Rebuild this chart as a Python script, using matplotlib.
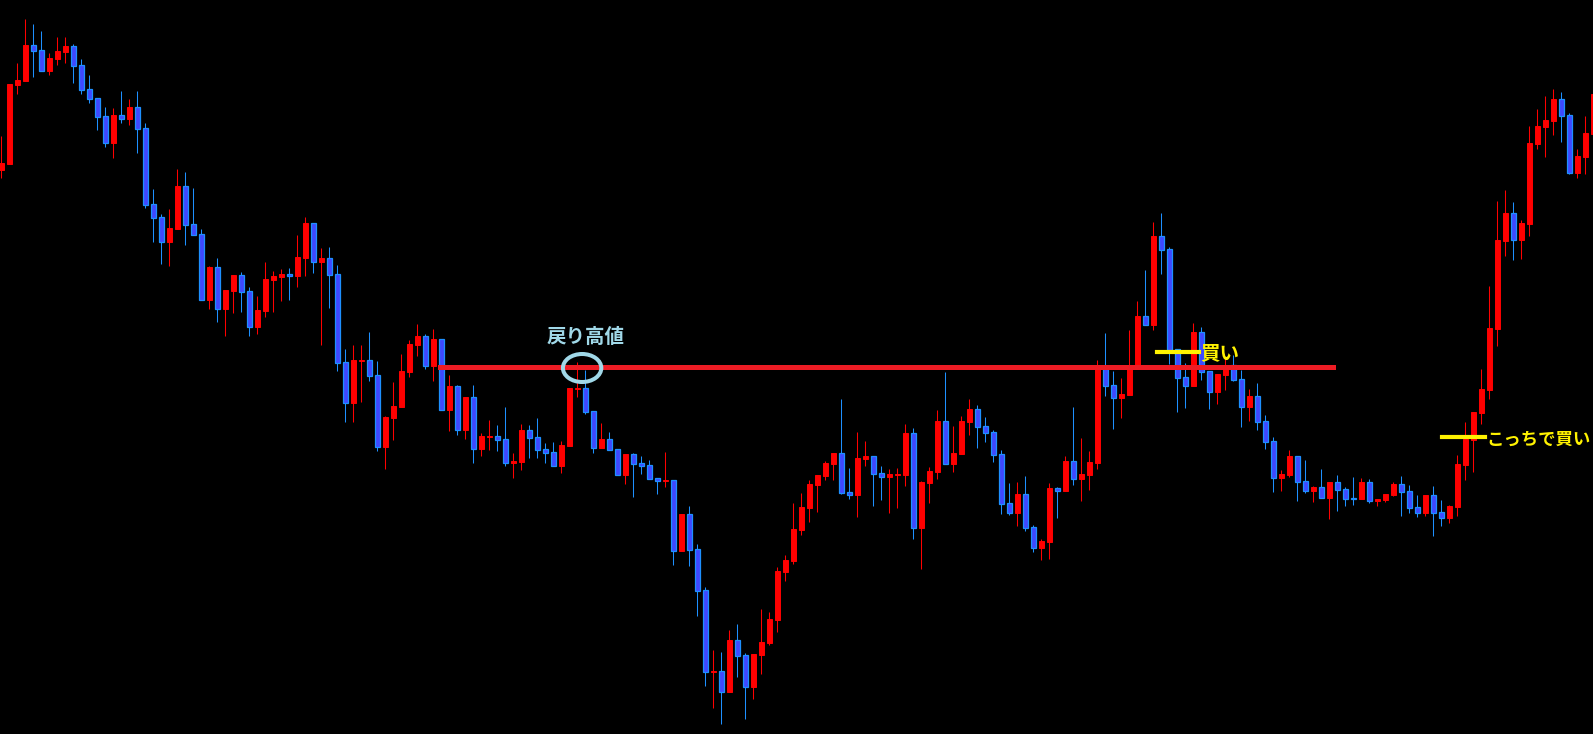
import matplotlib
matplotlib.use("Agg")
import matplotlib.pyplot as plt
from matplotlib.patches import Ellipse
import numpy as np

plt.rcParams['font.family'] = ['Noto Sans CJK JP', 'DejaVu Sans']

# OHLC (price points)
opens = [830, 836, 915, 919, 955, 950, 929, 941, 948, 954,
         935, 911, 902, 884, 857, 885, 881, 893, 872, 796,
         783, 758, 771, 814, 776, 766, 700, 733, 691, 709,
         725, 709, 673, 689, 720, 723, 726, 724, 742, 777,
         738, 742, 726, 638, 597, 639, 640, 625, 553, 582,
         593, 628, 655, 664, 634, 661, 590, 614, 570, 603,
         551, 563, 564, 561, 537, 538, 570, 563, 551, 548,
         534, 554, 611, 612, 589, 552, 561, 551, 525, 546,
         537, 535, 522, 519, 520, 449, 486, 451, 410, 328,
         329, 308, 360, 345, 313, 345, 357, 380, 428, 439,
         470, 492, 515, 524, 536, 547, 508, 505, 541, 544,
         527, 523, 525, 525, 567, 472, 517, 528, 579, 536,
         546, 578, 591, 574, 568, 546, 497, 487, 506, 473,
         452, 458, 512, 509, 539, 521, 525, 537, 633, 615,
         602, 605, 633, 684, 675, 764, 751, 651, 623, 614,
         668, 629, 608, 625, 635, 621, 593, 604, 579, 559,
         522, 525, 544, 519, 509, 513, 502, 518, 511, 502,
         501, 518, 499, 500, 505, 516, 509, 493, 487, 505,
         488, 482, 493, 535, 560, 587, 610, 671, 759, 787,
         760, 776, 856, 873, 879, 901, 885, 827, 843, 866]
highs = [864, 916, 937, 981, 976, 969, 947, 963, 963, 956,
         941, 925, 902, 893, 892, 909, 901, 909, 877, 811,
         786, 791, 831, 828, 812, 771, 734, 742, 710, 725,
         728, 713, 704, 738, 729, 731, 732, 765, 783, 777,
         752, 753, 735, 651, 655, 655, 668, 639, 584, 618,
         646, 660, 676, 666, 671, 661, 625, 615, 603, 615,
         567, 580, 575, 593, 547, 576, 575, 582, 557, 558,
         559, 612, 638, 630, 589, 577, 568, 551, 546, 547,
         544, 540, 522, 548, 520, 486, 494, 456, 413, 350,
         348, 370, 376, 347, 346, 391, 388, 433, 445, 497,
         507, 520, 525, 539, 547, 601, 532, 568, 559, 544,
         534, 531, 532, 576, 572, 519, 533, 590, 628, 574,
         584, 601, 595, 583, 570, 550, 517, 518, 524, 475,
         461, 517, 513, 544, 593, 562, 549, 640, 667, 629,
         622, 670, 699, 730, 778, 787, 753, 651, 637, 677,
         673, 629, 626, 642, 645, 630, 611, 617, 585, 563,
         530, 550, 544, 540, 514, 531, 518, 525, 513, 523,
         522, 521, 501, 506, 518, 524, 515, 505, 505, 514,
         500, 495, 545, 578, 588, 631, 714, 799, 810, 798,
         780, 874, 891, 904, 911, 908, 887, 851, 884, 910]
lows = [822, 836, 906, 919, 923, 929, 925, 935, 937, 917,
        906, 897, 870, 853, 842, 877, 875, 847, 792, 758,
        736, 734, 771, 755, 765, 700, 691, 678, 664, 687,
        688, 664, 666, 683, 688, 699, 700, 713, 724, 727,
        655, 692, 629, 578, 578, 598, 619, 549, 531, 560,
        593, 623, 644, 631, 619, 590, 569, 565, 561, 537,
        544, 550, 549, 534, 522, 530, 542, 542, 537, 534,
        527, 554, 603, 586, 547, 552, 550, 525, 516, 503,
        526, 521, 506, 513, 435, 449, 434, 384, 314, 292,
        276, 308, 323, 281, 301, 326, 355, 368, 419, 436,
        465, 478, 488, 520, 520, 506, 501, 483, 534, 494,
        500, 487, 492, 514, 461, 431, 497, 521, 536, 528,
        546, 565, 552, 558, 538, 486, 485, 474, 469, 448,
        440, 441, 482, 509, 515, 499, 510, 531, 604, 571,
        582, 605, 633, 675, 670, 726, 636, 588, 592, 614,
        620, 591, 596, 610, 619, 573, 579, 570, 551, 508,
        509, 523, 499, 507, 498, 502, 481, 489, 494, 495,
        501, 497, 494, 498, 504, 484, 487, 483, 484, 464,
        474, 477, 484, 520, 528, 576, 601, 654, 744, 740,
        741, 764, 851, 843, 865, 858, 826, 822, 826, 860]
closes = [837, 916, 920, 955, 949, 929, 942, 949, 954, 934,
          910, 901, 883, 857, 885, 881, 893, 871, 795, 782,
          758, 772, 814, 775, 765, 700, 733, 691, 710, 725,
          708, 673, 690, 721, 724, 726, 724, 743, 777, 738,
          742, 725, 637, 597, 640, 640, 624, 553, 583, 594,
          629, 656, 664, 634, 661, 590, 614, 570, 603, 551,
          564, 564, 560, 537, 539, 570, 562, 550, 547, 534,
          555, 612, 612, 588, 552, 561, 550, 525, 546, 536,
          534, 521, 519, 520, 449, 486, 450, 409, 328, 329,
          308, 360, 344, 313, 346, 358, 381, 429, 440, 471,
          493, 516, 525, 537, 547, 507, 505, 542, 544, 526,
          523, 526, 526, 567, 472, 518, 529, 579, 536, 547,
          579, 591, 573, 567, 545, 496, 487, 506, 472, 452,
          459, 512, 509, 539, 521, 526, 538, 633, 614, 602,
          606, 633, 684, 675, 764, 750, 650, 622, 614, 668,
          628, 608, 626, 633, 620, 593, 604, 578, 558, 522,
          526, 544, 518, 509, 513, 502, 518, 510, 501, 501,
          518, 499, 501, 506, 516, 508, 492, 487, 505, 487,
          482, 494, 536, 561, 588, 611, 672, 760, 787, 760,
          777, 857, 874, 880, 901, 884, 827, 844, 867, 906]

retrace_high = 633      # 戻り高値 level
line_start, line_end = 54.85, 166.5
circle_idx = 72.6
buy1_idx, buy1_price = 144.5, 648
buy2_idx, buy2_price = 180.1, 563.5

o = np.array(opens)
h = np.array(highs)
l = np.array(lows)
c = np.array(closes)
x = np.arange(len(o))
up = c >= o

fig = plt.figure(figsize=(15.93, 7.34), dpi=100, facecolor='black')
ax = fig.add_axes([0, 0, 1, 1])
ax.set_facecolor('black')

# wicks
ax.vlines(x[up], l[up], h[up], color='#FF0000', linewidth=0.75, zorder=2)
ax.vlines(x[~up], l[~up], h[~up], color='#1E90FF', linewidth=0.75, zorder=2)

# bodies
bottom = np.minimum(o, c)
height = np.maximum(np.abs(c - o), 1)
ax.bar(x[up], height[up], bottom=bottom[up], width=0.6,
       color='#FF0000', edgecolor='#FF0000', linewidth=0.7, zorder=3)
ax.bar(x[~up], height[~up], bottom=bottom[~up], width=0.6,
       color='#3F48FF', edgecolor='#1E90FF', linewidth=0.9, zorder=3)

# 戻り高値 line + marker
ax.plot([line_start, line_end], [retrace_high, retrace_high],
        color='#ED1C24', linewidth=3.6, zorder=4)
ax.add_patch(Ellipse((circle_idx, retrace_high - 1), width=4.8, height=28,
                     fill=False, edgecolor='#A0D8E8', linewidth=2.9, zorder=5))
ax.text(68.2, 663, '戻り高値', color='#A0D8E8', fontsize=14,
        fontweight='bold', ha='left', va='center', zorder=6)

# buy marks
ax.plot([buy1_idx, buy1_idx + 5.2], [buy1_price, buy1_price],
        color='#FFF200', linewidth=3, zorder=6)
ax.text(buy1_idx + 5.4, buy1_price - 2, '買い', color='#FFF200', fontsize=14,
        fontweight='bold', ha='left', va='center', zorder=6)
ax.plot([buy2_idx, buy2_idx + 5.4], [buy2_price, buy2_price],
        color='#FFF200', linewidth=3, zorder=6)
ax.text(buy2_idx + 5.5, buy2_price - 3, 'こっちで買い', color='#FFF200',
        fontsize=12.5, fontweight='bold', ha='left', va='center', zorder=6)

ax.set_xlim(-0.1625, 198.96)
ax.set_ylim(266, 1000)
ax.axis('off')

fig.savefig('out.png', dpi=100, facecolor='black')
